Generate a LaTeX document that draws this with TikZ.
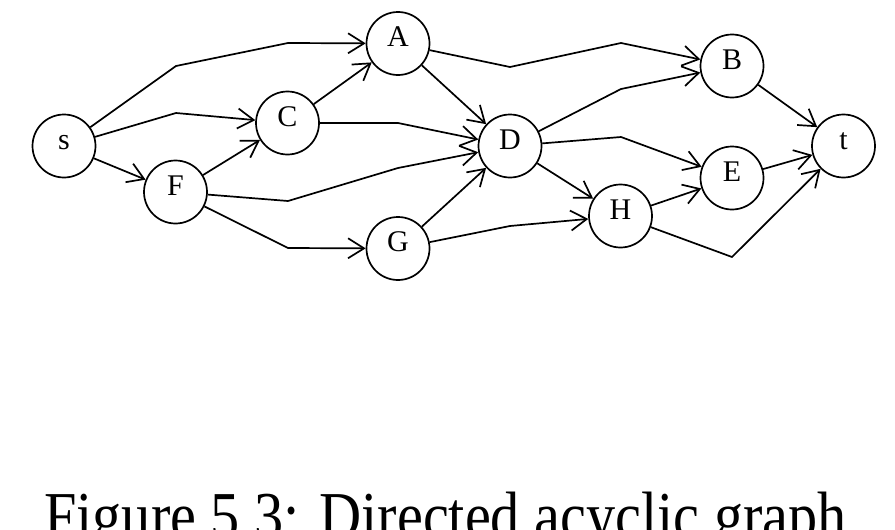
\documentclass[tikz,border=0pt]{standalone}
\usepackage{fontspec}
\setmainfont{Liberation Serif}
\usetikzlibrary{arrows.meta}
\begin{document}
\begin{tikzpicture}[x=1pt,y=-1pt,
  vtx/.style={circle,draw,line width=1.7pt,minimum size=63pt,inner sep=0pt,
    text height=6pt,text depth=0pt,font=\fontsize{30}{30}\selectfont},
  arr/.style={line width=1.7pt,-{Straight Barb[length=16pt,width=20pt]}}]
\useasboundingbox (0,0) rectangle (895,530);
\node[vtx] (s) at (64,146) {s};
\node[vtx] (F) at (175.5,192) {F};
\node[vtx] (C) at (287.5,123) {C};
\node[vtx] (A) at (398,43.5) {A};
\node[vtx] (G) at (398,248.5) {G};
\node[vtx] (D) at (510,146) {D};
\node[vtx] (H) at (620.5,216) {H};
\node[vtx] (B) at (732,66) {B};
\node[vtx] (E) at (732,178) {E};
\node[vtx] (t) at (843.5,146) {t};
\draw[arr] (s) -- (176,66) -- (288,43) -- (A);
\draw[arr] (s) -- (176,113) -- (C);
\draw[arr] (s) -- (F);
\draw[arr] (F) -- (C);
\draw[arr] (C) -- (A);
\draw[arr] (C) -- (398,123) -- (D);
\draw[arr] (F) -- (288,201) -- (398,168) -- (D);
\draw[arr] (F) -- (288,248) -- (G);
\draw[arr] (G) -- (D);
\draw[arr] (G) -- (510,226) -- (H);
\draw[arr] (A) -- (510,67) -- (621,43) -- (B);
\draw[arr] (A) -- (D);
\draw[arr] (D) -- (621,89) -- (B);
\draw[arr] (D) -- (621,137) -- (E);
\draw[arr] (D) -- (H);
\draw[arr] (H) -- (E);
\draw[arr] (H) -- (732,257) -- (t);
\draw[arr] (B) -- (t);
\draw[arr] (E) -- (t);
\node[anchor=base west,inner sep=0pt,font=\fontsize{67}{67}\selectfont] (cap) at (44,538)
  {\scalebox{0.87}[1]{Figure 5.3: Directed acyclic graph.}};
\end{tikzpicture}
\end{document}
